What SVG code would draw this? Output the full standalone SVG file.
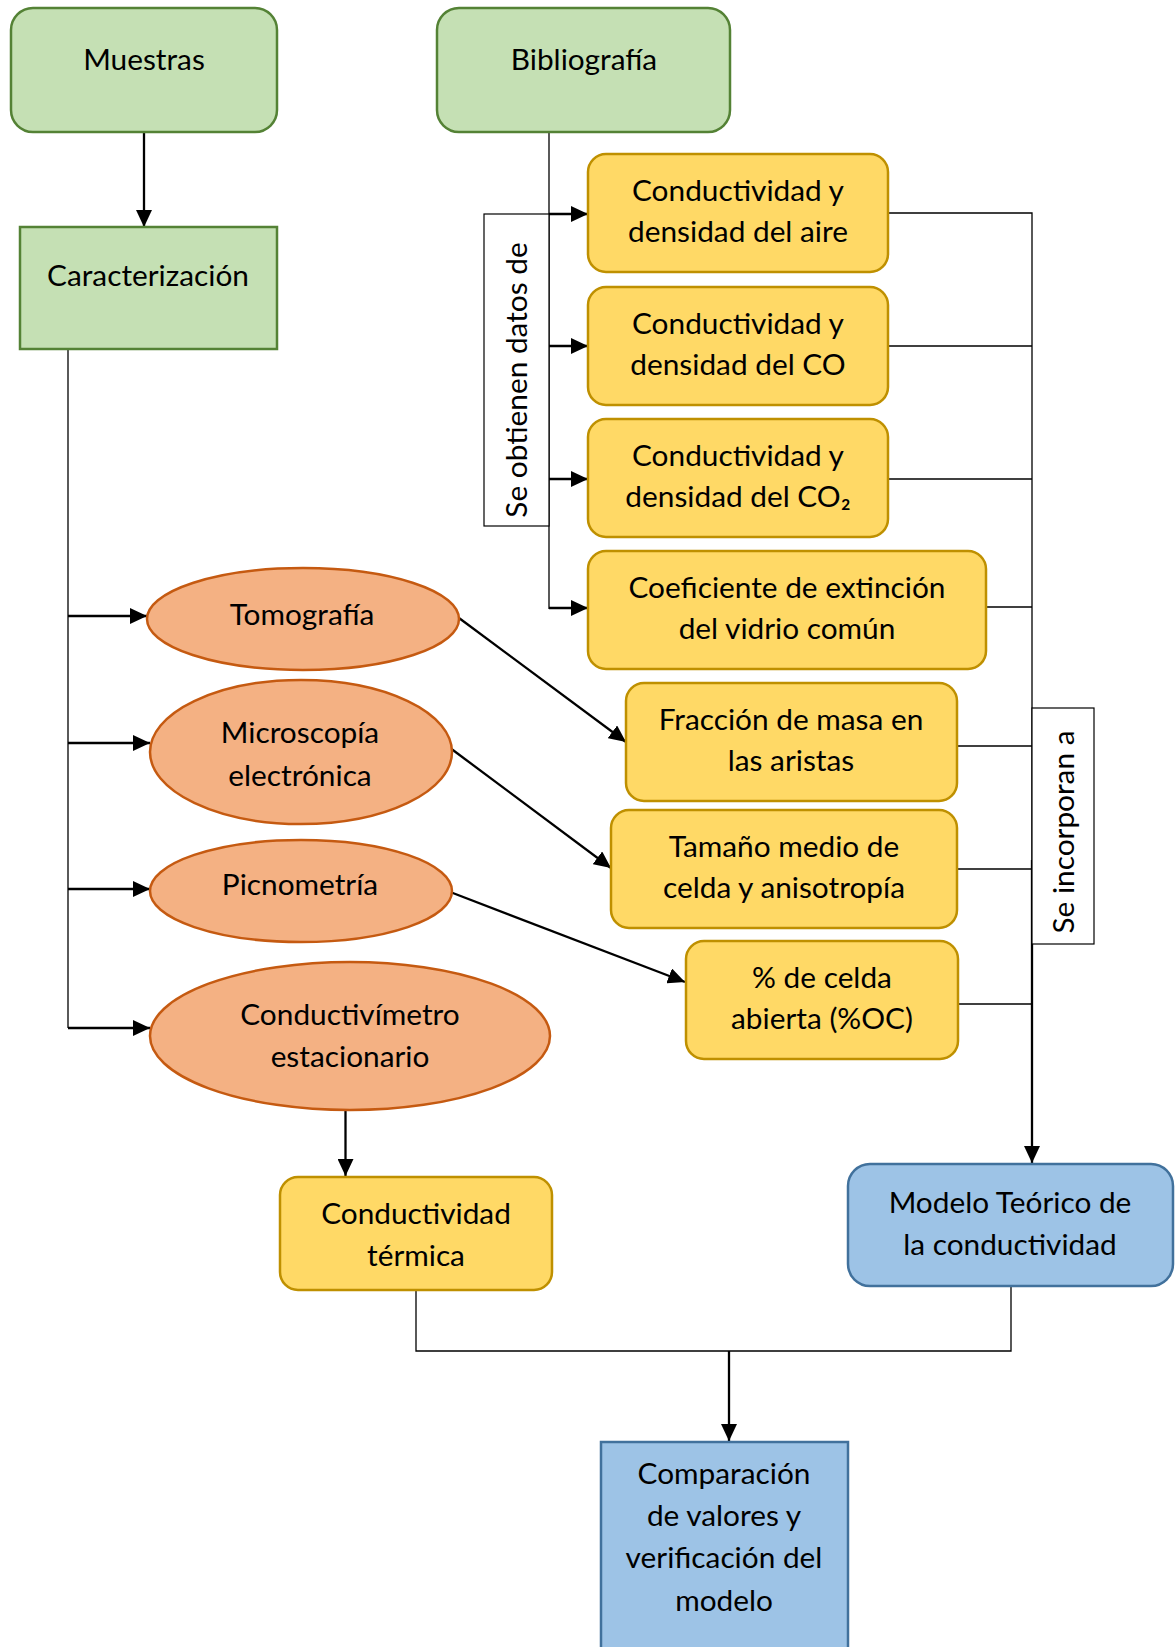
<svg xmlns="http://www.w3.org/2000/svg" width="1176" height="1647" viewBox="0 0 1176 1647">
<defs>
<style>
text{font-family:Lato,"Noto Sans","DejaVu Sans",sans-serif;font-size:29.8px;fill:#000;text-anchor:middle}
.g{fill:#C5E0B4;stroke:#548235;stroke-width:2.5}
.y{fill:#FFD966;stroke:#BF9000;stroke-width:2.5}
.o{fill:#F4B183;stroke:#C55A11;stroke-width:2.5}
.b{fill:#9DC3E6;stroke:#41719C;stroke-width:2.5}
.thin{fill:none;stroke:#000;stroke-width:1.3}
.arr{fill:none;stroke:#000;stroke-width:2.3;marker-end:url(#ah)}
.lab{fill:#fff;stroke:#000;stroke-width:1.2}
</style>
<marker id="ah" markerUnits="userSpaceOnUse" markerWidth="17" markerHeight="16" refX="17" refY="8" orient="auto">
<path d="M0,0 L17,8 L0,16 Z" fill="#000"/>
</marker>
</defs>
<rect width="1176" height="1647" fill="#fff"/>

<g id="connectors">
<line class="arr" x1="144" y1="133" x2="144" y2="227"/>
<line class="thin" x1="68" y1="349" x2="68" y2="1028"/>
<line class="arr" x1="68" y1="616" x2="147" y2="616"/>
<line class="arr" x1="68" y1="743" x2="150" y2="743"/>
<line class="arr" x1="68" y1="889" x2="150" y2="889"/>
<line class="arr" x1="68" y1="1028" x2="150" y2="1028"/>
<line class="thin" x1="549" y1="132" x2="549" y2="609"/>
<line class="arr" x1="549" y1="214" x2="588" y2="214"/>
<line class="arr" x1="549" y1="346" x2="588" y2="346"/>
<line class="arr" x1="549" y1="479" x2="588" y2="479"/>
<line class="arr" x1="549" y1="608" x2="588" y2="608"/>
<line class="arr" x1="459" y1="618" x2="626" y2="742"/>
<line class="arr" x1="451.5" y1="749" x2="611" y2="868"/>
<line class="arr" x1="451.5" y1="892.5" x2="685" y2="982"/>
<polyline class="thin" points="888,213 1032,213 1032,860"/>
<line class="thin" x1="888" y1="346" x2="1032" y2="346"/>
<line class="thin" x1="888" y1="479" x2="1032" y2="479"/>
<line class="thin" x1="986" y1="607" x2="1032" y2="607"/>
<line class="thin" x1="957" y1="746" x2="1032" y2="746"/>
<line class="thin" x1="957" y1="869" x2="1032" y2="869"/>
<line class="thin" x1="958" y1="1004" x2="1032" y2="1004"/>
<line class="arr" x1="1032" y1="860" x2="1032" y2="1163"/>
<line class="arr" x1="345.5" y1="1111" x2="345.5" y2="1176"/>
<polyline class="thin" points="416,1290 416,1351 1011,1351 1011,1286"/>
<line class="arr" x1="729" y1="1351" x2="729" y2="1441"/>
</g>

<g id="label-obtienen">
<rect class="lab" x="484" y="214" width="65" height="312"/>
<text transform="translate(527,380) rotate(-90)">Se obtienen datos de</text>
</g>
<g id="label-incorporan">
<rect class="lab" x="1032" y="708" width="62" height="236"/>
<text transform="translate(1074,832) rotate(-90)">Se incorporan a</text>
</g>

<g id="muestras">
<rect class="g" x="11" y="8" width="266" height="124" rx="22"/>
<text x="144" y="70">Muestras</text>
</g>
<g id="bibliografia">
<rect class="g" x="437" y="8" width="293" height="124" rx="22"/>
<text x="584" y="70">Bibliografía</text>
</g>
<g id="caracterizacion">
<rect class="g" x="20" y="227" width="257" height="122"/>
<text x="148" y="286">Caracterización</text>
</g>

<g id="aire">
<rect class="y" x="588" y="154" width="300" height="118" rx="18"/>
<text x="738" y="200.5">Conductividad y</text>
<text x="738" y="241.5">densidad del aire</text>
</g>
<g id="co">
<rect class="y" x="588" y="287" width="300" height="118" rx="18"/>
<text x="738" y="333.5">Conductividad y</text>
<text x="738" y="374.5">densidad del CO</text>
</g>
<g id="co2">
<rect class="y" x="588" y="419" width="300" height="118" rx="18"/>
<text x="738" y="465.5">Conductividad y</text>
<text x="738" y="506.5">densidad del CO₂</text>
</g>
<g id="extincion">
<rect class="y" x="588" y="551" width="398" height="118" rx="18"/>
<text x="787" y="597.5">Coeficiente de extinción</text>
<text x="787" y="638.5">del vidrio común</text>
</g>
<g id="fraccion">
<rect class="y" x="626" y="683" width="331" height="118" rx="18"/>
<text x="791" y="729.5">Fracción de masa en</text>
<text x="791" y="770.5">las aristas</text>
</g>
<g id="tamano">
<rect class="y" x="611" y="810" width="346" height="118" rx="18"/>
<text x="784" y="856.5">Tamaño medio de</text>
<text x="784" y="897.5">celda y anisotropía</text>
</g>
<g id="celda-abierta">
<rect class="y" x="686" y="941" width="272" height="118" rx="18"/>
<text x="822" y="987.5">% de celda</text>
<text x="822" y="1028.5">abierta (%OC)</text>
</g>

<g id="tomografia">
<ellipse class="o" cx="303" cy="619" rx="156" ry="51"/>
<text x="302" y="625">Tomografía</text>
</g>
<g id="microscopia">
<ellipse class="o" cx="301" cy="752" rx="151" ry="72"/>
<text x="300" y="743">Microscopía</text>
<text x="300" y="786">electrónica</text>
</g>
<g id="picnometria">
<ellipse class="o" cx="301" cy="891" rx="151" ry="51"/>
<text x="300" y="895">Picnometría</text>
</g>
<g id="conductivimetro">
<ellipse class="o" cx="350" cy="1036" rx="200" ry="74"/>
<text x="350" y="1025">Conductivímetro</text>
<text x="350" y="1067">estacionario</text>
</g>

<g id="conductividad-termica">
<rect class="y" x="280" y="1177" width="272" height="113" rx="18"/>
<text x="416" y="1224">Conductividad</text>
<text x="416" y="1266">térmica</text>
</g>
<g id="modelo">
<rect class="b" x="848" y="1164" width="325" height="122" rx="22"/>
<text x="1010" y="1213">Modelo Teórico de</text>
<text x="1010" y="1255">la conductividad</text>
</g>
<g id="comparacion">
<rect class="b" x="601" y="1442" width="247" height="215" stroke="#2E75B6"/>
<text x="724" y="1484">Comparación</text>
<text x="724" y="1526">de valores y</text>
<text x="724" y="1568">verificación del</text>
<text x="724" y="1611">modelo</text>
</g>
</svg>
